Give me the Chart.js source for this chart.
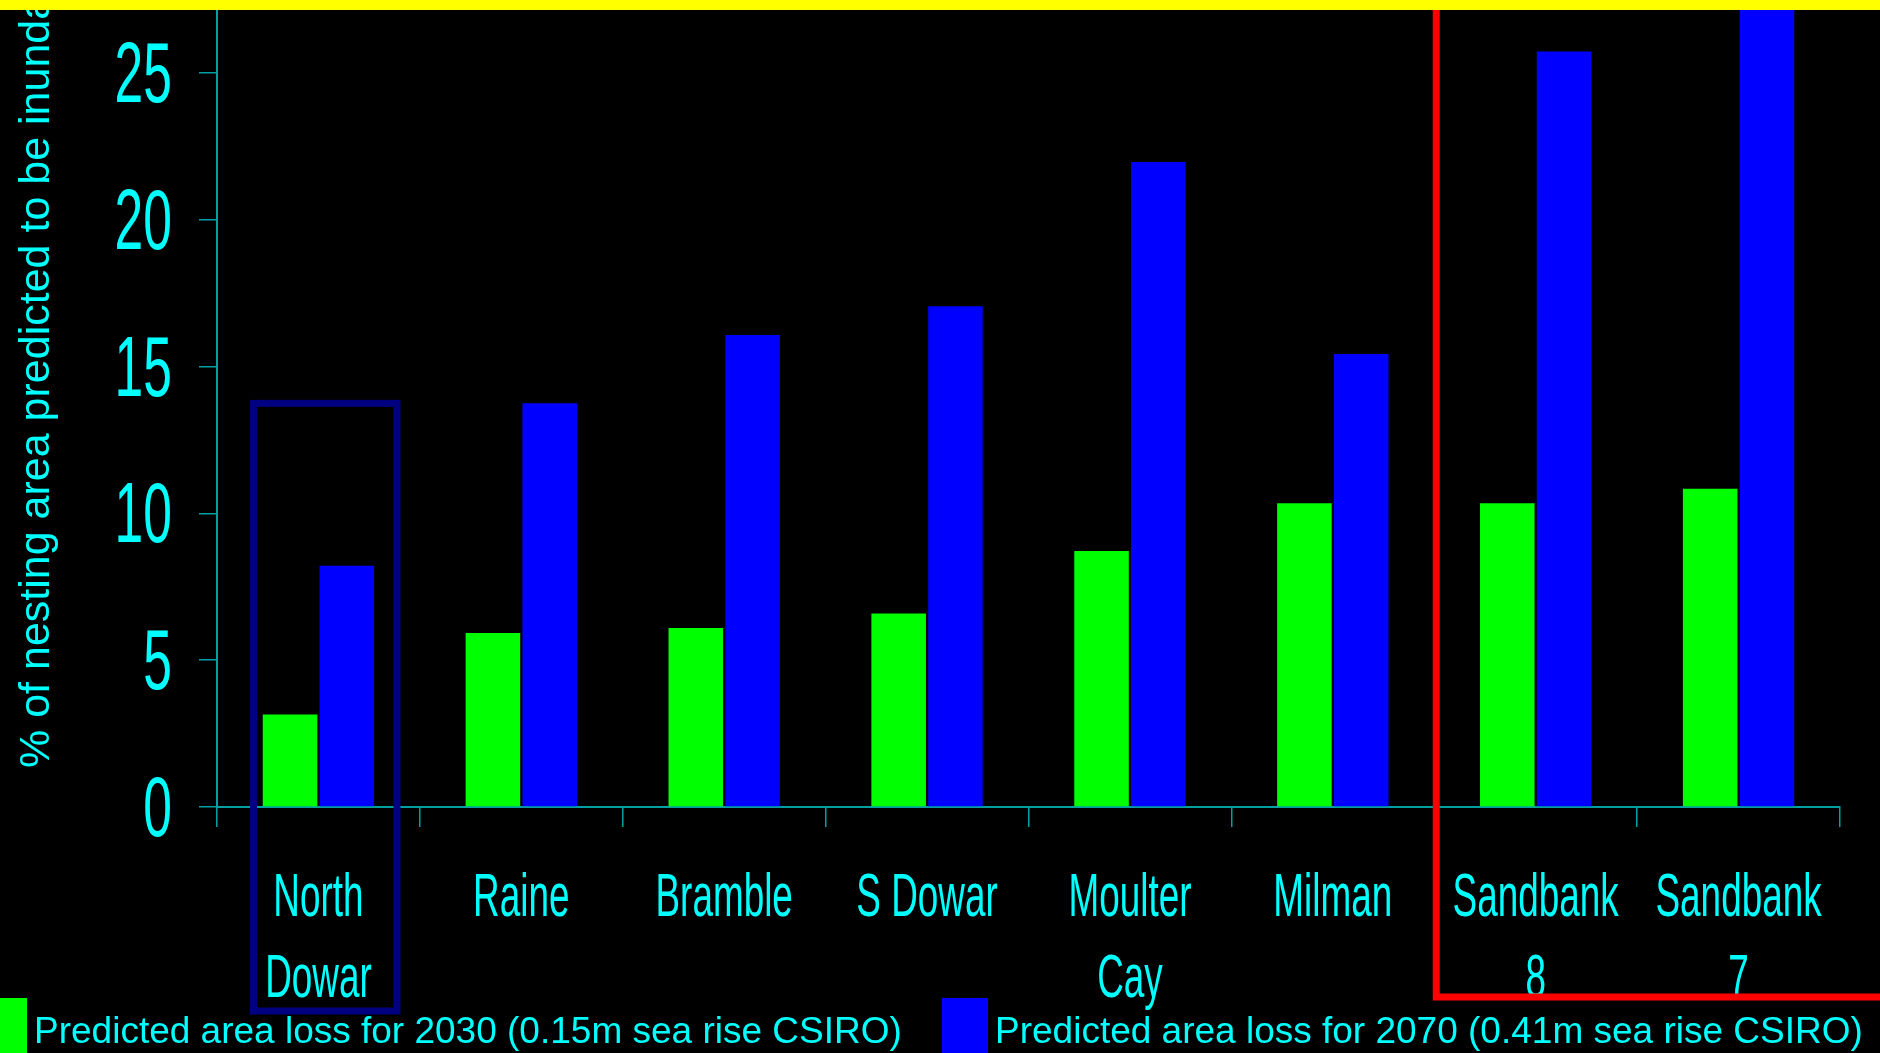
<!DOCTYPE html>
<html>
<head>
<meta charset="utf-8">
<script src="https://cdn.jsdelivr.net/npm/chart.js@4.4.0/dist/chart.umd.min.js"></script>
<style>
  html, body { margin: 0; padding: 0; background: #000; overflow: hidden; }
  canvas { display: block; }
</style>
</head>
<body>
<canvas id="chart" width="1880" height="1053"></canvas>
<script>
// island names, split over two lines where the slide wraps them
const categories = [
    ["North", "Dowar"], ["Raine"], ["Bramble"], ["S Dowar"],
    ["Moulter", "Cay"], ["Milman"], ["Sandbank", "8"], ["Sandbank", "7"]
];
const loss2030 = [3.15, 5.93, 6.1, 6.59, 8.72, 10.35, 10.35, 10.84];
const loss2070 = [8.22, 13.75, 16.08, 17.06, 21.97, 15.43, 25.74, 28];
const yTicks = [0, 5, 10, 15, 20, 25];
const yTitle = "% of nesting area predicted to be inundated";
const seriesLabels = [
    "Predicted area loss for 2030 (0.15m sea rise CSIRO)",
    "Predicted area loss for 2070 (0.41m sea rise CSIRO)"
];

const CYAN = "#00ffff";
const AXIS = "#00a0a0";
const FONT = '"Liberation Sans", Arial, sans-serif';

// narrow font look: squeeze the text horizontally
function narrowText(ctx, text, x, y, size, squeeze, align) {
    ctx.save();
    ctx.translate(x, y);
    ctx.scale(squeeze, 1);
    ctx.font = size + "px " + FONT;
    ctx.textAlign = align;
    ctx.textBaseline = "alphabetic";
    ctx.fillStyle = CYAN;
    ctx.fillText(text, 0, 0);
    ctx.restore();
}

const slideDecor = {
    id: "slideDecor",
    afterDraw(chart) {
        const ctx = chart.ctx;
        const xs = chart.scales.x;
        const ys = chart.scales.y;
        const area = chart.chartArea;
        const catW = (area.right - area.left) / categories.length;

        // y tick labels
        yTicks.forEach(v => {
            narrowText(ctx, String(v), 172, ys.getPixelForValue(v) + 29, 86, 0.6, "right");
        });

        // category labels
        categories.forEach((lines, i) => {
            const x = xs.getPixelForValue(i);
            lines.forEach((line, j) => {
                narrowText(ctx, line, x, area.bottom + 109 + j * 81, 62, 0.595, "center");
            });
        });

        // y axis title
        ctx.save();
        ctx.translate(49, 768);
        ctx.rotate(-Math.PI / 2);
        ctx.font = "43px " + FONT;
        ctx.fillStyle = CYAN;
        ctx.textAlign = "left";
        ctx.textBaseline = "alphabetic";
        ctx.fillText(yTitle, 0, 0);
        ctx.restore();

        // navy box round North Dowar
        const c0 = xs.getPixelForValue(0);
        const boxTop = ys.getPixelForValue(13.75);
        ctx.save();
        ctx.strokeStyle = "#000080";
        ctx.lineWidth = 7;
        ctx.strokeRect(c0 - 0.32 * catW, boxTop, 0.707 * catW, area.bottom + 204 - boxTop);
        ctx.restore();

        // red box round the two sandbanks
        const redX = (xs.getPixelForValue(5) + xs.getPixelForValue(6)) / 2 + 2;
        ctx.save();
        ctx.strokeStyle = "#ff0000";
        ctx.lineWidth = 7;
        ctx.beginPath();
        ctx.moveTo(redX, 0);
        ctx.lineTo(redX, area.bottom + 190);
        ctx.lineTo(chart.width + 10, area.bottom + 190);
        ctx.stroke();
        ctx.restore();

        // legend
        const ds = chart.data.datasets;
        const items = [{ box: -19, text: 34 }, { box: 942, text: 995 }];
        items.forEach((it, i) => {
            ctx.fillStyle = ds[i].backgroundColor;
            ctx.fillRect(it.box, 998, 46, 60);
            ctx.font = "37px " + FONT;
            ctx.fillStyle = CYAN;
            ctx.textAlign = "left";
            ctx.textBaseline = "alphabetic";
            ctx.fillText(ds[i].label, it.text, 1043);
        });

        // yellow strip along the top
        ctx.fillStyle = "#ffff00";
        ctx.fillRect(0, 0, chart.width, 10);
    }
};

function draw() {
    const ctx = document.getElementById("chart").getContext("2d");
    new Chart(ctx, {
        type: "bar",
        data: {
            labels: categories,
            datasets: [
                {
                    label: seriesLabels[0],
                    data: loss2030,
                    backgroundColor: "#00ff00",
                    barPercentage: 0.96,
                    categoryPercentage: 0.56,
                },
                {
                    label: seriesLabels[1],
                    data: loss2070,
                    backgroundColor: "#0000ff",
                    barPercentage: 0.96,
                    categoryPercentage: 0.56,
                },
            ],
        },
        options: {
            responsive: false,
            animation: false,
            devicePixelRatio: 1,
            layout: { padding: { top: 10, right: 40, left: 0, bottom: 0 } },
            plugins: {
                legend: { display: false },
                tooltip: { enabled: false },
            },
            scales: {
                x: {
                    offset: true,
                    grid: {
                        offset: true,
                        drawOnChartArea: false,
                        drawTicks: true,
                        tickLength: 20,
                        color: AXIS,
                        lineWidth: 1.5,
                    },
                    border: { color: AXIS, width: 2 },
                    ticks: { display: false },
                    afterFit(scale) { scale.height = 246; },
                },
                y: {
                    min: 0,
                    max: 27.15,
                    grid: {
                        drawOnChartArea: false,
                        drawTicks: true,
                        tickLength: 18,
                        color: AXIS,
                        lineWidth: 1.5,
                    },
                    border: { color: AXIS, width: 2 },
                    ticks: { display: false, stepSize: 5, includeBounds: false },
                    afterBuildTicks(scale) {
                        scale.ticks = yTicks.map(v => ({ value: v }));
                    },
                    afterFit(scale) { scale.width = 217; },
                },
            },
        },
        plugins: [slideDecor],
    });
}

if (document.fonts && document.fonts.load) {
    document.fonts.load('43px "Liberation Sans"').then(draw, draw);
} else {
    draw();
}
</script>
</body>
</html>
